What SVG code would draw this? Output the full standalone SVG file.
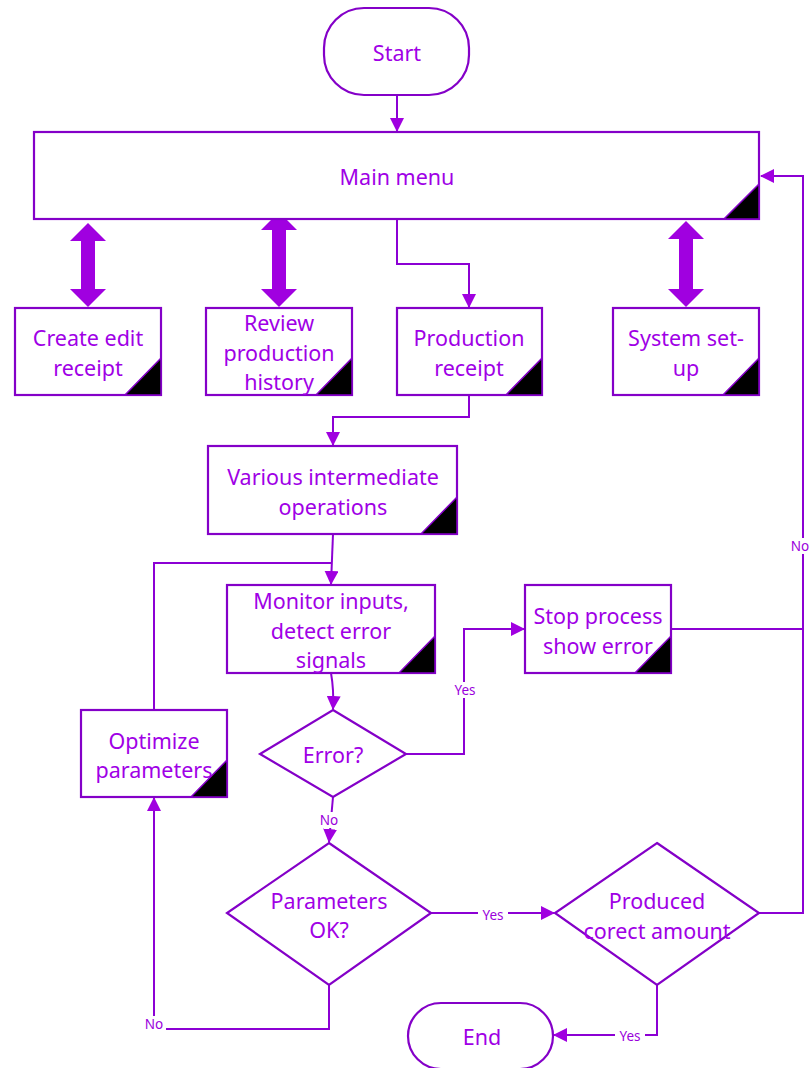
<svg xmlns="http://www.w3.org/2000/svg" width="811" height="1068" viewBox="0 0 811 1068">
<defs>
<style>
.n{fill:#fff;stroke:#8400c8;stroke-width:2.2}
.c{fill:#000;stroke:#8400c8;stroke-width:1.5}
.t{font-family:"Noto Sans","Liberation Sans",sans-serif;font-size:21.5px;fill:#a000e6;text-anchor:middle;dominant-baseline:central}
.e{fill:none;stroke:#8c00d4;stroke-width:2}
.l{font-family:"Noto Sans","Liberation Sans",sans-serif;font-size:13.5px;fill:#9a00dc;text-anchor:middle;dominant-baseline:central}
.lb{fill:#fff}
.big{fill:#a000e0}
</style>
<marker id="ah" markerWidth="14" markerHeight="14" refX="13" refY="7" orient="auto" markerUnits="userSpaceOnUse">
<path d="M0,0 L14,7 L0,14 Z" fill="#a000e0"/>
</marker>
</defs>
<rect width="811" height="1068" fill="#fff"/>

<g id="connectors">
<path class="e" d="M397,95 V131" marker-end="url(#ah)"/>
<path class="e" d="M397,219 V264 H469 V307" marker-end="url(#ah)"/>
<path class="e" d="M469,395 V417 H333 V445" marker-end="url(#ah)"/>
<path class="e" d="M333,534 L331,584" marker-end="url(#ah)"/>
<path class="e" d="M154,710 V563 H331"/>
<path class="e" d="M331,673 Q334,690 333,709" marker-end="url(#ah)"/>
<path class="e" d="M406,754 H464 V629 H524" marker-end="url(#ah)"/>
<path class="e" d="M671,629 H803"/>
<path class="e" d="M759,913 H803 V176 H761" marker-end="url(#ah)"/>
<path class="e" d="M333,797 L329,842" marker-end="url(#ah)"/>
<path class="e" d="M431,913 H554" marker-end="url(#ah)"/>
<path class="e" d="M329,985 V1029 H154 V798" marker-end="url(#ah)"/>
<path class="e" d="M657,985 V1035 H554" marker-end="url(#ah)"/>
<path class="big" d="M88,223 L106,241 L95,241 L95,289 L106,289 L88,307 L70,289 L81,289 L81,241 L70,241 Z"/>
<path class="big" d="M279,212 L297,230 L286,230 L286,289 L297,289 L279,307 L261,289 L272,289 L272,230 L261,230 Z"/>
<path class="big" d="M686,221 L704,239 L693,239 L693,289 L704,289 L686,307 L668,289 L679,289 L679,239 L668,239 Z"/>
<rect class="lb" x="450" y="682" width="29" height="16"/>
<text class="l" x="465" y="690">Yes</text>
<rect class="lb" x="318" y="812" width="22" height="16"/>
<text class="l" x="329" y="820">No</text>
<rect class="lb" x="478" y="907" width="30" height="16"/>
<text class="l" x="493" y="915">Yes</text>
<rect class="lb" x="142" y="1016" width="24" height="16"/>
<text class="l" x="154" y="1024">No</text>
<rect class="lb" x="615" y="1028" width="30" height="16"/>
<text class="l" x="630" y="1036">Yes</text>
<rect class="lb" x="790" y="538" width="20" height="16"/>
<text class="l" x="800" y="546">No</text>
</g>

<g id="start">
<rect class="n" x="324" y="8" width="145" height="87" rx="40"/>
<text class="t" x="397" y="52">Start</text>
</g>

<g id="main-menu">
<rect class="n" x="34" y="132" width="725" height="87"/>
<path class="c" d="M724,219 L759,219 L759,184 Z"/>
<text class="t" x="397" y="176">Main menu</text>
</g>

<g id="create-edit">
<rect class="n" x="15" y="308" width="146" height="87"/>
<path class="c" d="M125,395 L161,395 L161,358 Z"/>
<text class="t" x="88" y="337">Create edit</text>
<text class="t" x="88" y="367">receipt</text>
</g>

<g id="review-history">
<rect class="n" x="206" y="308" width="146" height="87"/>
<path class="c" d="M316,395 L352,395 L352,358 Z"/>
<text class="t" x="279" y="322">Review</text>
<text class="t" x="279" y="352">production</text>
<text class="t" x="279" y="381">history</text>
</g>

<g id="production-receipt">
<rect class="n" x="397" y="308" width="145" height="87"/>
<path class="c" d="M506,395 L542,395 L542,358 Z"/>
<text class="t" x="469" y="337">Production</text>
<text class="t" x="469" y="367">receipt</text>
</g>

<g id="system-setup">
<rect class="n" x="613" y="308" width="146" height="87"/>
<path class="c" d="M723,395 L759,395 L759,358 Z"/>
<text class="t" x="686" y="337">System set-</text>
<text class="t" x="686" y="367">up</text>
</g>

<g id="intermediate">
<rect class="n" x="208" y="446" width="249" height="88"/>
<path class="c" d="M421,534 L457,534 L457,497 Z"/>
<text class="t" x="333" y="476">Various intermediate</text>
<text class="t" x="333" y="506">operations</text>
</g>

<g id="monitor">
<rect class="n" x="227" y="585" width="208" height="88"/>
<path class="c" d="M399,673 L435,673 L435,636 Z"/>
<text class="t" x="331" y="600">Monitor inputs,</text>
<text class="t" x="331" y="630">detect error</text>
<text class="t" x="331" y="659">signals</text>
</g>

<g id="stop-process">
<rect class="n" x="525" y="585" width="146" height="88"/>
<path class="c" d="M635,673 L671,673 L671,636 Z"/>
<text class="t" x="598" y="615">Stop process</text>
<text class="t" x="598" y="645">show error</text>
</g>

<g id="optimize">
<rect class="n" x="81" y="710" width="146" height="87"/>
<path class="c" d="M191,797 L227,797 L227,760 Z"/>
<text class="t" x="154" y="740">Optimize</text>
<text class="t" x="154" y="769">parameters</text>
</g>

<g id="error-decision">
<path class="n" d="M333,710 L406,754 L333,797 L260,754 Z"/>
<text class="t" x="333" y="754">Error?</text>
</g>

<g id="parameters-ok">
<path class="n" d="M329,843 L431,913 L329,985 L227,913 Z"/>
<text class="t" x="329" y="900">Parameters</text>
<text class="t" x="329" y="929">OK?</text>
</g>

<g id="produced-amount">
<path class="n" d="M657,843 L759,913 L657,985 L555,913 Z"/>
<text class="t" x="657" y="900">Produced</text>
<text class="t" x="657" y="930">corect amount</text>
</g>

<g id="end">
<rect class="n" x="408" y="1003" width="145" height="66" rx="33"/>
<text class="t" x="482" y="1036">End</text>
</g>
</svg>
